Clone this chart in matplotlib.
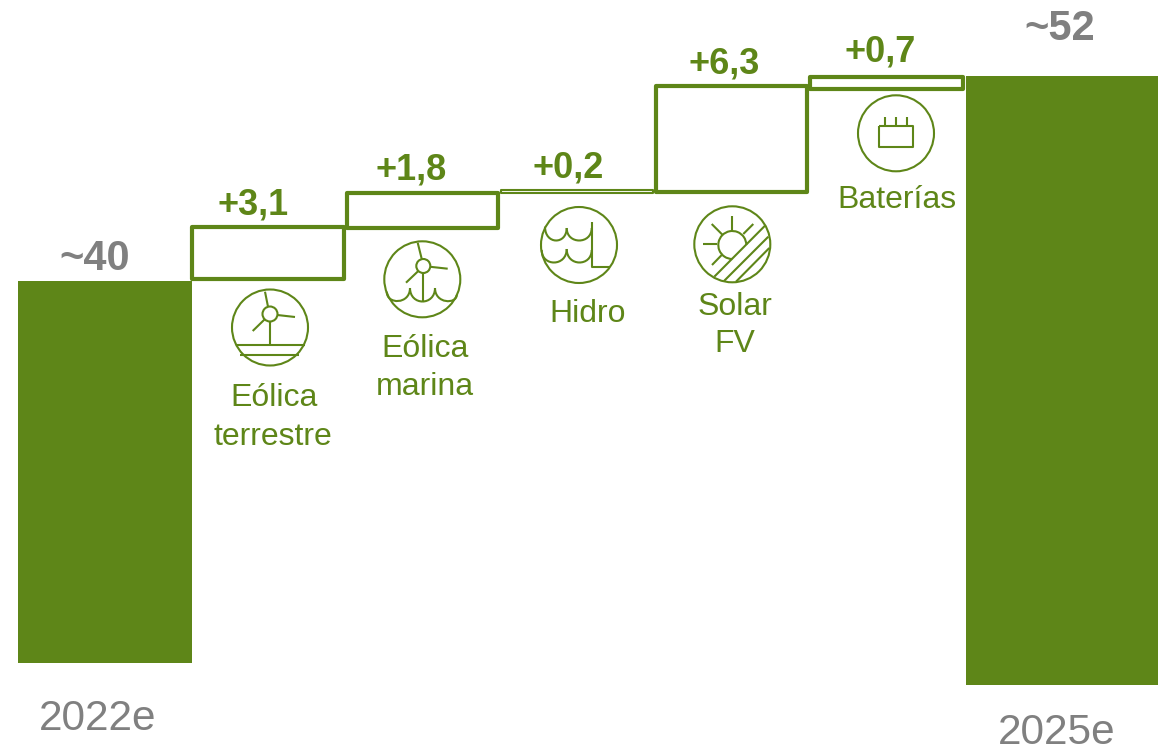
import matplotlib
matplotlib.use('Agg')
import matplotlib.pyplot as plt
from matplotlib.patches import Circle, Arc, PathPatch
from matplotlib.path import Path

# Data (the value axis is cut below the bars)
total_labels = ['~40', '~52']
total_years = ['2022e', '2025e']
total_tops = [40, 52.2]
total_bottoms = [17.25, 15.9]

step_labels = ['+3,1', '+1,8', '+0,2', '+6,3', '+0,7']
step_lows = [40.1, 43.14, 45.2, 45.27, 51.4]
step_highs = [43.2, 45.18, 45.4, 51.55, 52.14]

GREEN = '#5E8618'
GREY = '#808080'
plt.rcParams['font.family'] = ['Liberation Sans', 'DejaVu Sans']

fig = plt.figure(figsize=(11.63, 7.49), dpi=100)

# Value axis for the bars: 16.8 px per unit, 40 sits at y = 280.5 px
ax = fig.add_axes([0, 0, 1, 1])
ax.set_xlim(0, 1163)
ax.set_ylim(40 + (280.5 - 749) / 16.8, 40 + 280.5 / 16.8)
ax.axis('off')

# Pixel overlay for texts and icons
ov = fig.add_axes([0, 0, 1, 1])
ov.set_xlim(0, 1163)
ov.set_ylim(749, 0)
ov.axis('off')

# Solid totals
total_edges = [(18, 192), (966, 1158)]
for (x0, x1), top, bottom in zip(total_edges, total_tops, total_bottoms):
    ax.bar(x0, top - bottom, bottom=bottom, width=x1 - x0, align='edge', color=GREEN, linewidth=0)

# Outlined steps
step_edges = [(192, 344), (347, 498), (501, 653), (656, 807), (810, 963)]
step_lw = [3.0, 3.0, 1.5, 3.0, 3.0]
for (x0, x1), low, high, lw in zip(step_edges, step_lows, step_highs, step_lw):
    ax.bar(x0, high - low, bottom=low, width=x1 - x0, align='edge', facecolor='white',
           edgecolor=GREEN, linewidth=lw, joinstyle='round')


def txt(x, y, s, size, color=GREEN, weight='normal'):
    ov.text(x, y, s, fontsize=size, color=color, fontweight=weight, ha='center', va='center')


def line(*pts):
    ov.plot([p[0] for p in pts], [p[1] for p in pts], color=GREEN, lw=1.5, solid_capstyle='butt')


def ring(x, y, r):
    ov.add_patch(Circle((x, y), r, fill=False, edgecolor=GREEN, lw=1.5))


def scallop(a, b, bottom):
    # rounded wave between two cusps, sides start almost vertical
    yc = (bottom - (a[1] + b[1]) / 8) * 4 / 3
    verts = [a, (a[0], yc), (b[0], yc), b]
    ov.add_patch(PathPatch(Path(verts, [Path.MOVETO, Path.CURVE4, Path.CURVE4, Path.CURVE4]),
                           fill=False, edgecolor=GREEN, lw=1.5))


# Value labels
txt(95, 259, total_labels[0], 30, GREY, 'bold')
txt(1060, 29, total_labels[1], 30, GREY, 'bold')
step_label_pos = [(253, 205), (411, 170), (568, 168), (724, 64), (880, 52)]
for (x, y), s in zip(step_label_pos, step_labels):
    txt(x, y, s, 26, GREEN, 'bold')

# Category labels
txt(274, 398, 'Eólica', 23)
txt(273, 437, 'terrestre', 23)
txt(425, 349, 'Eólica', 23)
txt(425, 387, 'marina', 23)
txt(588, 314, 'Hidro', 23)
txt(735, 307, 'Solar', 23)
txt(735, 344, 'FV', 23)
txt(897, 200, 'Baterías', 23)
txt(98, 719, total_years[0], 30.5, GREY)
txt(1057, 733, total_years[1], 30.5, GREY)

# Onshore wind icon
ring(270, 327.5, 38)
ring(270, 314, 7.5)
line((268, 306.7), (265, 291.7))
line((277.3, 315), (295, 317))
line((264.7, 319.3), (252.7, 331))
line((270, 321.5), (270, 345))
line((235.5, 345), (304.5, 345))
line((240, 354.7), (299, 354.7))

# Offshore wind icon
ring(422.3, 279.3, 38)
ring(423.3, 266, 7)
line((421.8, 259.2), (417.7, 242.7))
line((430.3, 266.8), (447.7, 268.7))
line((418.3, 271), (406, 282.7))
line((423.3, 273), (423.3, 301.7))
scallop((386.7, 291.7), (410, 288), 301)
scallop((410, 288), (435, 288), 301.5)
scallop((435, 288), (456.7, 295), 301)

# Hydro icon
ring(579, 245, 38)
line((591.7, 221.7), (591.7, 266.7), (610, 266.7))
scallop((545, 226.7), (566.7, 228), 240.5)
scallop((566.7, 228), (591.7, 228), 240.5)
scallop((541.7, 250), (566.7, 249), 262.5)
scallop((566.7, 249), (591.7, 250), 262.5)

# Solar icon
ring(732.3, 244.3, 38)
ov.add_patch(Arc((732.3, 245), 28, 28, theta1=90, theta2=360, edgecolor=GREEN, lw=1.5))
line((714.3, 276.7), (765, 225.7))
line((724, 281), (768.3, 236.7))
line((736, 281.7), (769.3, 248))
line((732.3, 215.7), (732.3, 230))
line((753.3, 224), (743.3, 234))
line((711.7, 224), (722.7, 235))
line((703.3, 244.3), (717.3, 244.3))
line((712, 265), (721.7, 255))

# Battery icon
ring(896, 133.3, 38)
line((879, 126), (913.3, 126), (913.3, 147.3), (879, 147.3), (879, 126))
line((885, 117.3), (885, 126))
line((896, 117.3), (896, 126))
line((907.3, 117.3), (907.3, 126))

fig.savefig('out.png', dpi=100)
